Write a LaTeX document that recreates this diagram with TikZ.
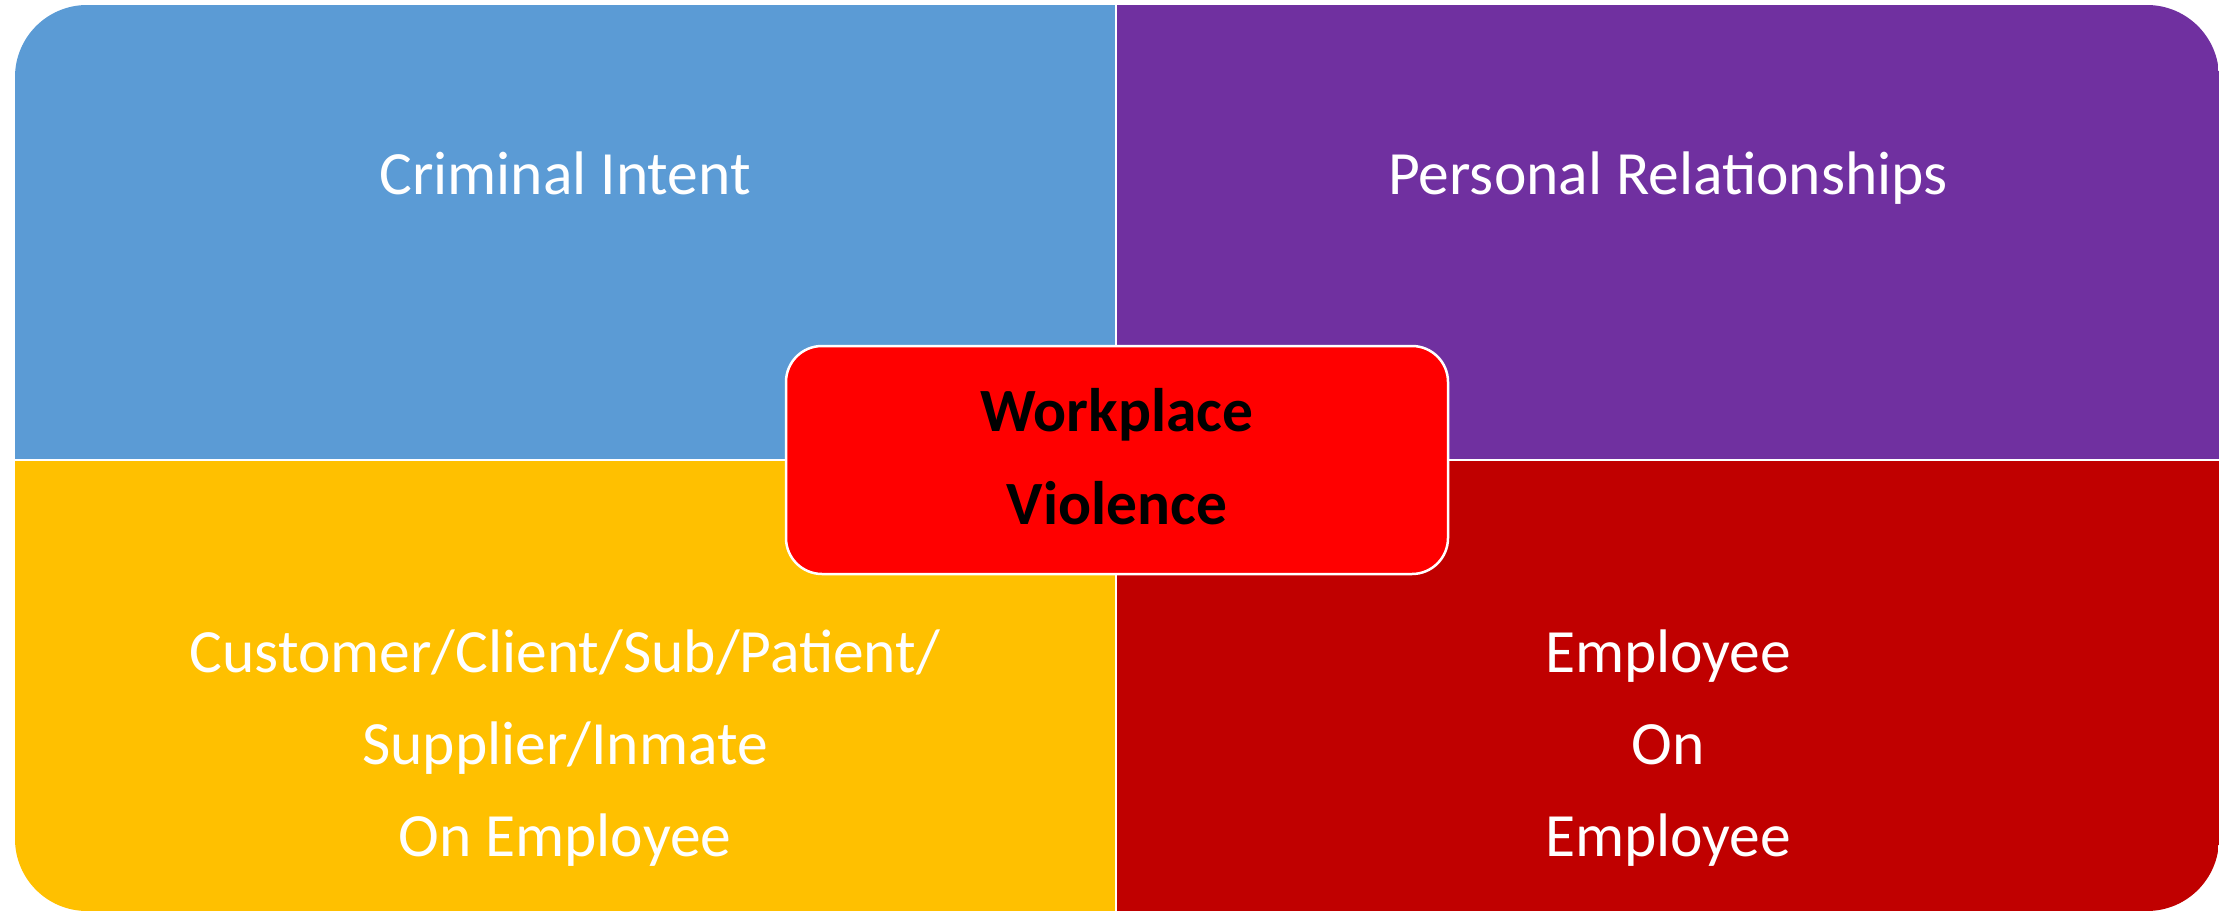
\documentclass[tikz,border=0pt]{standalone}
\usepackage{fontspec}
\setmainfont{Carlito}
\definecolor{qblue}{HTML}{5B9BD5}
\definecolor{qpurple}{HTML}{7030A0}
\definecolor{qgold}{HTML}{FFC000}
\definecolor{qdred}{HTML}{C00000}
\definecolor{qred}{HTML}{FF0000}
\tikzset{
  qtext/.style={anchor=base, text=white, inner sep=0pt, font=\fontsize{61.5}{72}\selectfont},
  ctext/.style={anchor=base, text=black, inner sep=0pt, font=\fontsize{61.5}{72}\selectfont\bfseries},
  centerbox/.style={draw=white, line width=2.5pt, fill=qred, rounded corners=36pt, minimum width=662pt, minimum height=228pt, inner sep=0pt},
  divider/.style={draw=white, line width=2.5pt}
}
\begin{document}
\begin{tikzpicture}[x=1pt,y=-1pt]
\fill[white] (0,0) rectangle (2233,912);
\useasboundingbox (0,0) rectangle (2233,912);
\begin{scope}
  \clip[rounded corners=72pt] (15,5) rectangle (2219,911);
  \fill[qblue] (15,5) rectangle (1116,460);
  \fill[qpurple] (1116,5) rectangle (2219,460);
  \fill[qgold] (15,460) rectangle (1116,911);
  \fill[qdred] (1116,460) rectangle (2219,911);
\end{scope}
\coordinate (vt) at (1116,5);
\coordinate (vb) at (1116,911);
\coordinate (hl) at (15,460);
\coordinate (hr) at (2219,460);
\draw[divider] (vt) -- (vb);
\draw[divider] (hl) -- (hr);
\node[centerbox] (center) at (1117,460) {};
\node[ctext] (w1) at (1117,431) {Workplace};
\node[ctext] (w2) at (1117,524) {Violence};
\node[qtext] (ci) at (565,195) {Criminal Intent};
\node[qtext] (pr) at (1668,195) {Personal Relationships};
\node[qtext] (c1) at (565,672) {Customer/Client/Sub/Patient/};
\node[qtext] (c2) at (565,764) {Supplier/Inmate};
\node[qtext] (c3) at (565,856) {On Employee};
\node[qtext] (e1) at (1668,672) {Employee};
\node[qtext] (e2) at (1668,764) {On};
\node[qtext] (e3) at (1668,856) {Employee};
\end{tikzpicture}
\end{document}
